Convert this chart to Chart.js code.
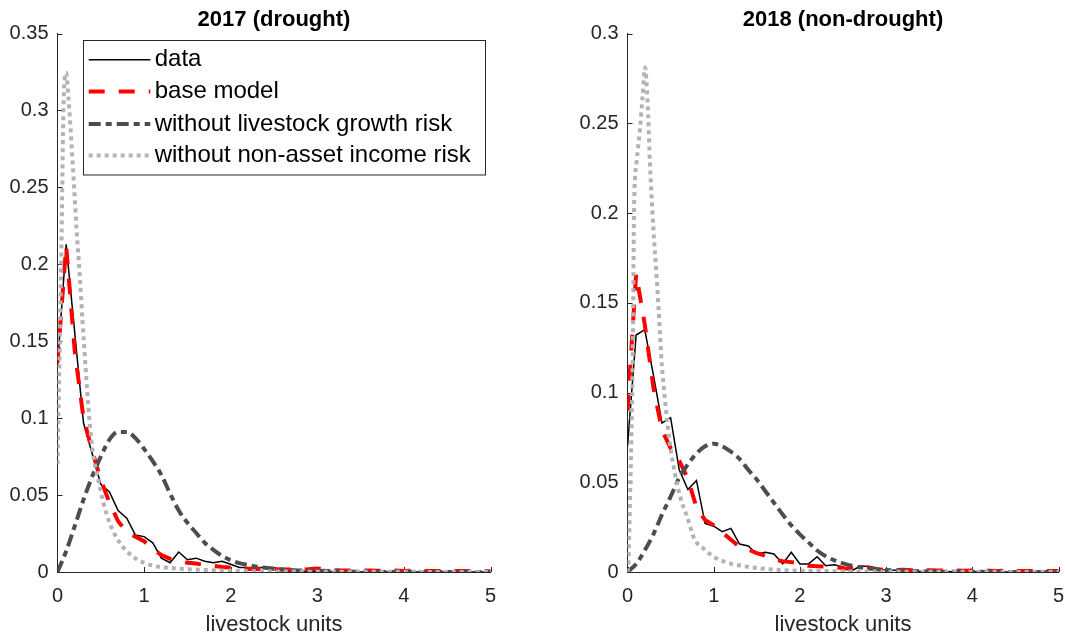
<!DOCTYPE html>
<html>
<head>
<meta charset="utf-8">
<script src="https://cdn.jsdelivr.net/npm/chart.js@4.4.1/dist/chart.umd.min.js"></script>
<style>
html, body { margin: 0; padding: 0; background: #fff; width: 1065px; height: 639px; overflow: hidden; }
.panel { position: absolute; top: 0; height: 639px; }
</style>
</head>
<body>
<div class="panel" style="left:0;width:532px"><canvas id="chart2017"></canvas></div>
<div class="panel" style="left:532px;width:533px"><canvas id="chart2018"></canvas></div>
<script>
const seriesNames = ['data', 'base model', 'without livestock growth risk', 'without non-asset income risk'];

// histogram bins (livestock units)
const xBins = [0, 0.1, 0.2, 0.3, 0.4, 0.5, 0.6, 0.7, 0.8, 0.9,
	1.0, 1.1, 1.2, 1.3, 1.4, 1.5, 1.6, 1.7, 1.8, 1.9,
	2.0, 2.1, 2.2, 2.3, 2.4, 2.5, 2.6, 2.7, 2.8, 2.9,
	3.0, 3.1, 3.2, 3.3, 3.4, 3.5, 3.6, 3.7, 3.8, 3.9,
	4.0, 4.1, 4.2, 4.3, 4.4, 4.5, 4.6, 4.7, 4.8, 4.9, 5.0];

const data2017 = [0.134, 0.213, 0.155, 0.097, 0.077, 0.057, 0.052, 0.040, 0.035, 0.024,
	0.023, 0.019, 0.009, 0.006, 0.013, 0.008, 0.009, 0.007, 0.006, 0.007,
	0.005, 0.003, 0.003, 0.003, 0.003, 0.003, 0.001, 0.0005, 0.0005, 0.0003,
	0.0005, 0.0002, 0.0003, 0, 0.0002, 0, 0.0002, 0, 0, 0.0002,
	0, 0, 0, 0, 0, 0, 0, 0, 0, 0, 0];
const base2017 = [0.136, 0.212, 0.143, 0.100, 0.079, 0.060, 0.045, 0.033, 0.026, 0.023,
	0.020, 0.015, 0.011, 0.0085, 0.007, 0.006, 0.0055, 0.0045, 0.004, 0.0033,
	0.003, 0.0025, 0.002, 0.002, 0.002, 0.0018, 0.0017, 0.0016, 0.0015, 0.0018,
	0.0022, 0.0015, 0.0012, 0.001, 0.001, 0.0009, 0.001, 0.0008, 0.0008, 0.0009,
	0.0007, 0.0008, 0.0007, 0.0007, 0.0006, 0.0007, 0.0006, 0.0006, 0.0005, 0.0006, 0.0005];

const data2018 = [0.070, 0.132, 0.135, 0.110, 0.083, 0.086, 0.057, 0.046, 0.051, 0.027,
	0.0255, 0.0225, 0.0243, 0.0156, 0.0145, 0.010, 0.011, 0.010, 0.0045, 0.011,
	0.0045, 0.0045, 0.0085, 0.0035, 0.004, 0.0028, 0.0006, 0.0033, 0.003, 0.002,
	0.001, 0.001, 0.0005, 0.0008, 0.0003, 0.0005, 0.0003, 0.0002, 0.0003, 0,
	0.0002, 0, 0, 0, 0, 0, 0, 0, 0, 0, 0];
const base2018 = [0.090, 0.166, 0.138, 0.103, 0.079, 0.069, 0.062, 0.052, 0.036, 0.029,
	0.026, 0.022, 0.018, 0.014, 0.0125, 0.0105, 0.009, 0.007, 0.006, 0.0055,
	0.0048, 0.0035, 0.0032, 0.003, 0.003, 0.002, 0.002, 0.003, 0.0025, 0.0015,
	0.0012, 0.001, 0.0012, 0.001, 0.0009, 0.001, 0.0008, 0.0009, 0.0008, 0.0007,
	0.0008, 0.0007, 0.0007, 0.0006, 0.0007, 0.0006, 0.0006, 0.0005, 0.0006, 0.0005, 0.0005];

// smooth model curves
const xLivestock = [0, 0.1, 0.2, 0.3, 0.4, 0.5, 0.6, 0.7, 0.8, 0.9,
	1.0, 1.1, 1.2, 1.3, 1.4, 1.5, 1.6, 1.7, 1.8, 1.9,
	2.0, 2.1, 2.2, 2.3, 2.4, 2.5, 2.6, 2.7, 2.8, 2.9,
	3.0, 3.5, 4.0, 4.5, 5.0];
const noLivestock2017 = [0, 0.0135, 0.030, 0.047, 0.062, 0.075, 0.086, 0.091, 0.091, 0.087,
	0.080, 0.072, 0.063, 0.051, 0.040, 0.032, 0.0255, 0.019, 0.0144, 0.0105,
	0.0077, 0.0058, 0.0045, 0.0035, 0.0027, 0.002, 0.0016, 0.0013, 0.001, 0.0009,
	0.0008, 0.0002, 0, 0, 0];
const noLivestock2018 = [0, 0.0045, 0.012, 0.021, 0.032, 0.042, 0.0525, 0.060, 0.066, 0.070,
	0.0715, 0.070, 0.067, 0.063, 0.057, 0.0515, 0.045, 0.0385, 0.032, 0.026,
	0.021, 0.0165, 0.012, 0.0088, 0.0065, 0.0048, 0.0035, 0.0026, 0.002, 0.0015,
	0.0011, 0.0003, 0.0001, 0, 0];

const xIncome2017 = [0, 0.01, 0.03, 0.045, 0.055, 0.067, 0.08, 0.1, 0.125, 0.16,
	0.19, 0.22, 0.26, 0.29, 0.31, 0.34, 0.375, 0.41, 0.47, 0.53,
	0.6, 0.72, 0.87, 1.07, 1.34, 1.72, 2.2, 3.0, 4.0, 5.0];
const noIncome2017 = [0.07, 0.10, 0.16, 0.21, 0.25, 0.298, 0.318, 0.3245, 0.309, 0.28,
	0.252, 0.223, 0.19, 0.162, 0.145, 0.12, 0.095, 0.077, 0.06, 0.045,
	0.032, 0.019, 0.01, 0.0046, 0.0024, 0.0013, 0.0006, 0.0002, 0.0001, 0];

const xIncome2018 = [0, 0.01, 0.03, 0.05, 0.065, 0.075, 0.105, 0.145, 0.175, 0.203,
	0.24, 0.26, 0.28, 0.30, 0.34, 0.36, 0.40, 0.435, 0.49, 0.55,
	0.61, 0.69, 0.78, 0.88, 1.0, 1.19, 1.38, 1.77, 2.3, 3.0, 4.0, 5.0];
const noIncome2018 = [0, 0.005, 0.042, 0.088, 0.14, 0.2, 0.228, 0.247, 0.265, 0.281,
	0.254, 0.228, 0.209, 0.191, 0.163, 0.147, 0.114, 0.096, 0.072, 0.055,
	0.042, 0.031, 0.018, 0.0132, 0.0085, 0.0048, 0.003, 0.0011, 0.0005, 0.0002, 0.0001, 0];

// axes
const xTicks = [0, 1, 2, 3, 4, 5];
const xTickLabels = ['0', '1', '2', '3', '4', '5'];
const yTicks2017 = [0, 0.05, 0.1, 0.15, 0.2, 0.25, 0.3, 0.35];
const yTickLabels2017 = ['0', '0.05', '0.1', '0.15', '0.2', '0.25', '0.3', '0.35'];
const yTicks2018 = [0, 0.05, 0.1, 0.15, 0.2, 0.25, 0.3];
const yTickLabels2018 = ['0', '0.05', '0.1', '0.15', '0.2', '0.25', '0.3'];

const FONT = '"Liberation Sans", Arial, Helvetica, sans-serif';
const AXIS_COLOR = '#262626';

function pts(xs, ys) {
	return xs.map((x, i) => ({ x: x, y: ys[i] }));
}

function makeDatasets(d, base, noLive, xInc, noInc) {
	return [
		{ label: seriesNames[0], data: pts(xBins, d), borderColor: '#000000', borderWidth: 1.5, order: 4 },
		{ label: seriesNames[1], data: pts(xBins, base), borderColor: '#ff0000', borderWidth: 4, borderDash: [16, 14], order: 3 },
		{ label: seriesNames[2], data: pts(xLivestock, noLive), borderColor: '#4d4d4d', borderWidth: 4, borderDash: [12, 5, 6, 5], cubicInterpolationMode: 'monotone', order: 2 },
		{ label: seriesNames[3], data: pts(xInc, noInc), borderColor: '#b3b3b3', borderWidth: 4, borderDash: [4, 4], cubicInterpolationMode: 'monotone', order: 1 }
	];
}

// MATLAB style ticks pointing into the plot
const innerTicks = {
	id: 'innerTicks',
	beforeDatasetsDraw(chart) {
		const { ctx, chartArea: a, scales: { x, y } } = chart;
		ctx.save();
		ctx.strokeStyle = AXIS_COLOR;
		ctx.lineWidth = 1;
		ctx.beginPath();
		x.ticks.forEach(t => {
			const px = Math.round(x.getPixelForValue(t.value)) + 0.5;
			ctx.moveTo(px, a.bottom);
			ctx.lineTo(px, a.bottom - 5);
		});
		y.ticks.forEach(t => {
			const py = Math.round(y.getPixelForValue(t.value)) + 0.5;
			ctx.moveTo(a.left, py);
			ctx.lineTo(a.left + 5, py);
		});
		ctx.stroke();
		ctx.restore();
	}
};

// legend box inside the left panel
const boxLegend = {
	id: 'boxLegend',
	afterDraw(chart, args, opts) {
		if (!opts.show) return;
		const ctx = chart.ctx;
		const bx = 83, by = 40, bw = 402, bh = 134.5;
		const rows = [59.7, 91.5, 124, 155.5];
		ctx.save();
		ctx.fillStyle = '#ffffff';
		ctx.fillRect(bx, by, bw, bh);
		ctx.strokeStyle = AXIS_COLOR;
		ctx.lineWidth = 1;
		ctx.strokeRect(bx + 0.5, by + 0.5, bw, bh);
		chart.data.datasets.forEach((ds, i) => {
			ctx.beginPath();
			ctx.strokeStyle = ds.borderColor;
			ctx.lineWidth = ds.borderWidth;
			ctx.setLineDash(ds.borderDash || []);
			ctx.moveTo(88.7, rows[i]);
			ctx.lineTo(150.3, rows[i]);
			ctx.stroke();
		});
		ctx.setLineDash([]);
		ctx.fillStyle = '#000000';
		ctx.font = '24px ' + FONT;
		ctx.textBaseline = 'middle';
		ctx.textAlign = 'left';
		chart.data.datasets.forEach((ds, i) => {
			ctx.fillText(ds.label, 154.7, rows[i]);
		});
		ctx.restore();
	}
};

function makeChart(id, title, datasets, yMax, yTicks, yLabels, axisWidth, padRight, showLegend) {
	const ctx = document.getElementById(id).getContext('2d');
	return new Chart(ctx, {
		type: 'line',
		data: { datasets: datasets },
		plugins: [innerTicks, boxLegend],
		options: {
			responsive: true,
			maintainAspectRatio: false,
			animation: false,
			layout: { padding: { left: 0, right: padRight, top: 0, bottom: 0 } },
			elements: {
				point: { radius: 0 },
				line: { tension: 0, fill: false }
			},
			plugins: {
				legend: { display: false },
				tooltip: { enabled: false },
				boxLegend: { show: showLegend },
				title: {
					display: true,
					text: title,
					fullSize: false,
					color: '#000000',
					font: { family: FONT, size: 22, weight: 'bold' },
					padding: { top: 7, bottom: 0.1 }
				}
			},
			scales: {
				x: {
					type: 'linear',
					min: 0,
					max: 5,
					afterBuildTicks: (scale) => { scale.ticks = xTicks.map(v => ({ value: v })); },
					afterFit: (scale) => { scale.height = 67; },
					ticks: {
						color: AXIS_COLOR,
						font: { family: FONT, size: 20 },
						padding: 0,
						maxRotation: 0,
						callback: (v, i) => xTickLabels[i]
					},
					grid: { display: true, color: 'rgba(0,0,0,0)', drawTicks: true, tickLength: 12, tickColor: 'rgba(0,0,0,0)' },
					border: { display: true, color: AXIS_COLOR, width: 1 },
					title: {
						display: true,
						text: 'livestock units',
						color: AXIS_COLOR,
						font: { family: FONT, size: 22 },
						padding: { top: 0, bottom: 1 }
					}
				},
				y: {
					min: 0,
					max: yMax,
					afterBuildTicks: (scale) => { scale.ticks = yTicks.map(v => ({ value: v })); },
					afterFit: (scale) => { scale.width = axisWidth; },
					ticks: {
						color: AXIS_COLOR,
						font: { family: FONT, size: 20 },
						padding: 9,
						callback: (v, i) => yLabels[i]
					},
					grid: { display: true, color: 'rgba(0,0,0,0)', drawTicks: false },
					border: { display: true, color: AXIS_COLOR, width: 1 }
				}
			}
		}
	});
}

makeChart('chart2017', '2017 (drought)',
	makeDatasets(data2017, base2017, noLivestock2017, xIncome2017, noIncome2017),
	0.35, yTicks2017, yTickLabels2017, 57.5, 41.5, true);

makeChart('chart2018', '2018 (non-drought)',
	makeDatasets(data2018, base2018, noLivestock2018, xIncome2018, noIncome2018),
	0.3, yTicks2018, yTickLabels2018, 95.5, 6.5, false);
</script>
</body>
</html>
